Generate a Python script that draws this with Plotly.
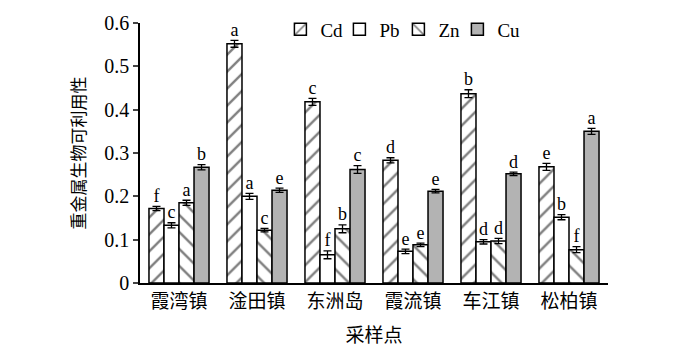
import plotly.graph_objects as go

sites = ["霞湾镇", "淦田镇", "东洲岛", "霞流镇", "车江镇", "松柏镇"]
metals = ["Cd", "Pb", "Zn", "Cu"]

cd = [0.172, 0.552, 0.418, 0.283, 0.437, 0.268]
pb = [0.133, 0.200, 0.065, 0.073, 0.095, 0.152]
zn = [0.185, 0.122, 0.125, 0.088, 0.097, 0.077]
cu = [0.267, 0.214, 0.262, 0.212, 0.252, 0.350]

cd_err = [0.005, 0.008, 0.008, 0.006, 0.009, 0.008]
pb_err = [0.006, 0.007, 0.009, 0.005, 0.005, 0.006]
zn_err = [0.006, 0.004, 0.009, 0.004, 0.006, 0.007]
cu_err = [0.006, 0.005, 0.009, 0.004, 0.004, 0.007]

cd_sig = ["f", "a", "c", "d", "b", "e"]
pb_sig = ["c", "a", "f", "e", "d", "b"]
zn_sig = ["a", "c", "b", "e", "d", "f"]
cu_sig = ["b", "e", "c", "e", "d", "a"]

y_ticks = [0, 0.1, 0.2, 0.3, 0.4, 0.5, 0.6]
y_ticklabels = ["0", "0.1", "0.2", "0.3", "0.4", "0.5", "0.6"]

values = [cd, pb, zn, cu]
errors = [cd_err, pb_err, zn_err, cu_err]
sigs = [cd_sig, pb_sig, zn_sig, cu_sig]

styles = [
    dict(color="white", pattern=dict(shape="/", fgcolor="black", bgcolor="white", size=12, solidity=0.2)),
    dict(color="white"),
    dict(color="white", pattern=dict(shape="\\", fgcolor="black", bgcolor="white", size=12, solidity=0.2)),
    dict(color="#b3b3b3"),
]
legend_widths = [14, 14, 14, 26]

serif = "Liberation Serif"
cjk = "Noto Sans CJK SC"

fig = go.Figure()
xs = list(range(len(sites)))
bargap = 0.23
w = (1 - bargap) / 4

for j, m in enumerate(metals):
    fig.add_trace(go.Bar(
        x=xs, y=values[j], name=m, legendwidth=legend_widths[j],
        marker=dict(**styles[j], line=dict(color="black", width=1.5)),
        error_y=dict(type="data", array=errors[j], color="black", thickness=1.3, width=4),
    ))

for j, m in enumerate(metals):
    fig.add_trace(go.Scatter(
        x=[i + (j - 1.5) * w for i in xs],
        y=[v + e for v, e in zip(values[j], errors[j])],
        mode="text", text=sigs[j], textposition="top center",
        textfont=dict(family=serif, size=18, color="black"),
        showlegend=False, hoverinfo="skip",
    ))

fig.update_layout(
    width=700, height=354,
    margin=dict(l=132, r=100, t=15, b=79, autoexpand=False),
    paper_bgcolor="white", plot_bgcolor="white",
    barmode="group", bargap=bargap, bargroupgap=0,
    font=dict(family=serif, color="black"),
    legend=dict(orientation="h", x=0.3, xanchor="left", y=0.975, yanchor="middle",
                font=dict(family=serif, size=19), itemwidth=30, tracegroupgap=0,
                bgcolor="rgba(0,0,0,0)"),
    xaxis=dict(range=[-0.5, 5.5], tickmode="array", tickvals=xs, ticktext=sites,
               tickfont=dict(family=cjk, size=19), showline=True, linecolor="black",
               linewidth=2, ticks="", showgrid=False, zeroline=False, automargin=False,
               title=dict(text="采样点", font=dict(family=cjk, size=19), standoff=17)),
    yaxis=dict(range=[0, 0.6], tickmode="array", tickvals=y_ticks, ticktext=y_ticklabels,
               showline=True, linecolor="black", automargin=False,
               linewidth=1.5, ticks="outside", ticklen=5, tickwidth=1.5, showgrid=False,
               zeroline=False, tickfont=dict(family=serif, size=20),
               title=dict(text="重金属生物可利用性", font=dict(family=cjk, size=17), standoff=14)),
)

fig.write_html("out.html")
